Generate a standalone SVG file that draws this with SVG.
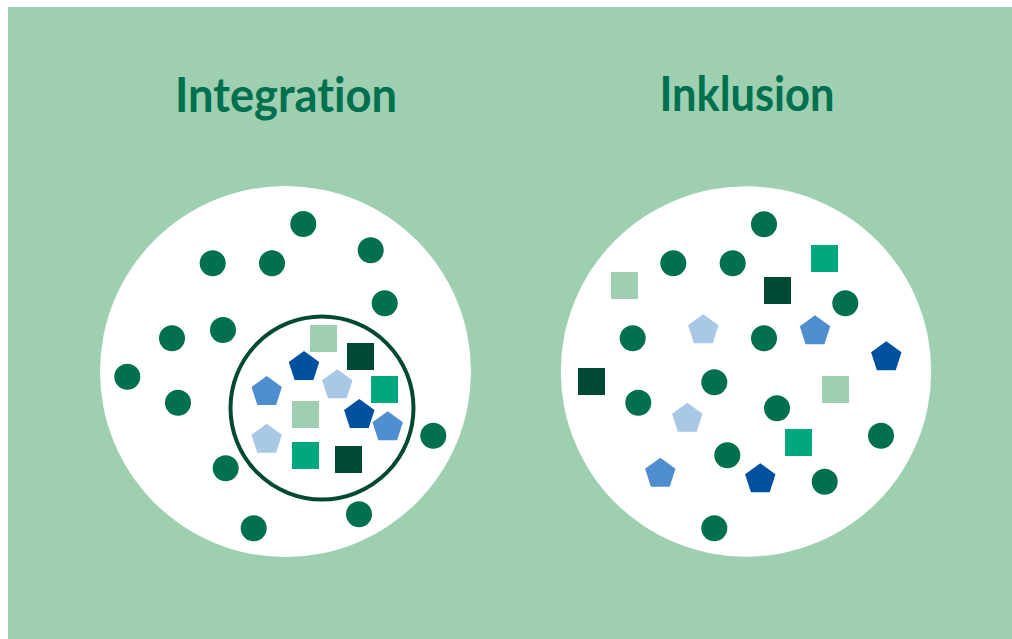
<svg xmlns="http://www.w3.org/2000/svg" xmlns:xlink="http://www.w3.org/1999/xlink" width="1012" height="639" viewBox="0 0 1012 639">
<style>
.title{font-family:Lato,"Liberation Sans",Arial,sans-serif;font-weight:bold;font-size:48px;fill:#00704f;text-anchor:middle;font-variant-ligatures:none;font-feature-settings:"liga" 0,"clig" 0}
.dot{fill:#00704f}
.sq-dark{fill:#004a35}
.sq-teal{fill:#00a880}
.sq-light{fill:#9dcfb0}
.pn-dark{fill:#0050a0}
.pn-mid{fill:#4f8fcf}
.pn-light{fill:#a9c8e6}
</style>
<defs>
<polygon id="pent" points="0,-16 15.22,-4.94 9.4,12.94 -9.4,12.94 -15.22,-4.94"/>
<rect id="sq" x="0" y="0" width="27" height="27"/>
<circle id="dt" cx="0" cy="0" r="13"/>
</defs>
<rect x="0" y="0" width="1012" height="639" fill="#ffffff"/>
<rect x="8" y="7" width="1004" height="632" fill="#9dcfb0"/>

<g id="title-integration"><text class="title" x="286" y="111.5" textLength="222" lengthAdjust="spacingAndGlyphs">Integration</text></g>
<g id="title-inklusion"><text class="title" x="747" y="111" textLength="175" lengthAdjust="spacingAndGlyphs">Inklusion</text></g>

<g id="integration">
<circle cx="285.5" cy="371.5" r="185.5" fill="#ffffff"/>
<g class="dot">
<use xlink:href="#dt" x="303.3" y="224"/>
<use xlink:href="#dt" x="212.7" y="263.3"/>
<use xlink:href="#dt" x="272" y="263.3"/>
<use xlink:href="#dt" x="370.7" y="250.3"/>
<use xlink:href="#dt" x="384.7" y="303.3"/>
<use xlink:href="#dt" x="172" y="338.3"/>
<use xlink:href="#dt" x="223" y="330"/>
<use xlink:href="#dt" x="127.3" y="376.7"/>
<use xlink:href="#dt" x="178" y="402.7"/>
<use xlink:href="#dt" x="433.3" y="435.7"/>
<use xlink:href="#dt" x="225.7" y="468.3"/>
<use xlink:href="#dt" x="359" y="514.3"/>
<use xlink:href="#dt" x="253.7" y="528.3"/>
</g>
<g id="inner-group">
<circle cx="322" cy="408" r="91.5" fill="none" stroke="#004a35" stroke-width="4"/>
<use xlink:href="#sq" class="sq-light" x="310" y="325"/>
<use xlink:href="#sq" class="sq-dark" x="347" y="343"/>
<use xlink:href="#sq" class="sq-teal" x="371" y="376"/>
<use xlink:href="#sq" class="sq-light" x="292" y="401"/>
<use xlink:href="#sq" class="sq-teal" x="292" y="442"/>
<use xlink:href="#sq" class="sq-dark" x="335" y="446"/>
<use xlink:href="#pent" class="pn-dark" x="304" y="367"/>
<use xlink:href="#pent" class="pn-mid" x="266.7" y="392"/>
<use xlink:href="#pent" class="pn-light" x="337.3" y="385.3"/>
<use xlink:href="#pent" class="pn-dark" x="359.3" y="415"/>
<use xlink:href="#pent" class="pn-mid" x="387.7" y="427.3"/>
<use xlink:href="#pent" class="pn-light" x="266.7" y="439.7"/>
</g>
</g>

<g id="inklusion">
<circle cx="746" cy="371.5" r="185.2" fill="#ffffff"/>
<g class="dot">
<use xlink:href="#dt" x="764" y="224.3"/>
<use xlink:href="#dt" x="673.3" y="263.3"/>
<use xlink:href="#dt" x="732.7" y="263.3"/>
<use xlink:href="#dt" x="845.3" y="303.3"/>
<use xlink:href="#dt" x="632.7" y="338.3"/>
<use xlink:href="#dt" x="764" y="338.3"/>
<use xlink:href="#dt" x="714.3" y="382.3"/>
<use xlink:href="#dt" x="638.3" y="402.7"/>
<use xlink:href="#dt" x="777" y="408.3"/>
<use xlink:href="#dt" x="881" y="435.7"/>
<use xlink:href="#dt" x="727.3" y="455.3"/>
<use xlink:href="#dt" x="824.7" y="481.7"/>
<use xlink:href="#dt" x="714.3" y="528.3"/>
</g>
<use xlink:href="#sq" class="sq-teal" x="811" y="245"/>
<use xlink:href="#sq" class="sq-light" x="611" y="272"/>
<use xlink:href="#sq" class="sq-dark" x="764" y="277"/>
<use xlink:href="#sq" class="sq-dark" x="578" y="368"/>
<use xlink:href="#sq" class="sq-light" x="822" y="376"/>
<use xlink:href="#sq" class="sq-teal" x="785" y="429"/>
<use xlink:href="#pent" class="pn-light" x="703.3" y="330.3"/>
<use xlink:href="#pent" class="pn-mid" x="815" y="331.3"/>
<use xlink:href="#pent" class="pn-dark" x="886.3" y="357.3"/>
<use xlink:href="#pent" class="pn-light" x="687.3" y="418.7"/>
<use xlink:href="#pent" class="pn-mid" x="660.3" y="473.7"/>
<use xlink:href="#pent" class="pn-dark" x="760.3" y="479.3"/>
</g>
<g id="connectors"/>
</svg>
